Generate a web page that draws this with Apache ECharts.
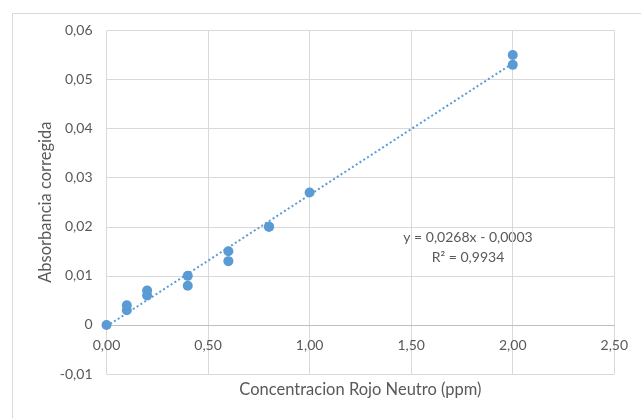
<!DOCTYPE html>
<html>
<head>
<meta charset="utf-8">
<script src="https://cdn.jsdelivr.net/npm/echarts@6/dist/echarts.min.js"></script>
<style>
    html, body { margin: 0; padding: 0; background: #fff; }
    #myChart { width: 641px; height: 418px; }
</style>
</head>
<body>
<div id="myChart"></div>
<script>
    // datos
    let concentracion = [0, 0.1, 0.1, 0.2, 0.2, 0.4, 0.4, 0.6, 0.6, 0.8, 0.8, 1.0, 2.0, 2.0];
    let absorbancia = [0, 0.004, 0.003, 0.007, 0.006, 0.010, 0.008, 0.015, 0.013, 0.020, 0.020, 0.027, 0.055, 0.053];
    // linea de tendencia (extremos)
    let tendenciaX = [0, 2];
    let tendenciaY = [-0.0003, 0.0533];
    let ecuacion = 'y = 0,0268x - 0,0003';
    let r2 = 'R² = 0,9934';

    let puntos = concentracion.map((x, i) => [x, absorbancia[i]]);
    let tendencia = tendenciaX.map((x, i) => [x, tendenciaY[i]]);

    let azul = '#5B9BD5';
    let gris = '#595959';
    let fuente = 'Lato';

    function coma(v, dec) {
        if (Math.abs(v) < 1e-9) return '0';
        return v.toFixed(dec).replace('.', ',');
    }

    let option = {
        backgroundColor: '#fff',
        animation: false,
        textStyle: { fontFamily: fuente },
        grid: {
            left: 106.5,
            right: 26.7,
            top: 30.5,
            bottom: 44,
            containLabel: false,
            outerBoundsMode: 'none'
        },
        xAxis: {
            type: 'value',
            min: 0,
            max: 2.5,
            interval: 0.5,
            // el eje corta en y = 0 (una division por encima del borde)
            offset: -49.07,
            name: 'Concentracion Rojo Neutro (ppm)',
            nameLocation: 'middle',
            nameGap: 56,
            nameTextStyle: { color: gris, fontSize: 16.5, fontFamily: fuente },
            axisLine: { onZero: false, lineStyle: { color: '#BFBFBF', width: 1 } },
            axisTick: { show: false },
            axisLabel: {
                color: gris,
                fontSize: 14,
                margin: 14,
                formatter: v => v === 0 ? '0,00' : coma(v, 2)
            },
            splitLine: { show: true, lineStyle: { color: '#D9D9D9', width: 1 } }
        },
        yAxis: {
            type: 'value',
            min: -0.01,
            max: 0.06,
            interval: 0.01,
            name: 'Absorbancia corregida',
            nameLocation: 'middle',
            nameGap: 52,
            nameMoveOverlap: false,
            nameTextStyle: { color: gris, fontSize: 16.5, fontFamily: fuente },
            axisLine: { show: false },
            axisTick: { show: false },
            axisLabel: {
                color: gris,
                fontSize: 14,
                margin: 14,
                formatter: v => coma(v, 2)
            },
            splitLine: { show: true, lineStyle: { color: '#D9D9D9', width: 1 } }
        },
        graphic: [{
            type: 'rect',
            left: 10,
            top: 11,
            shape: { width: 720, height: 520 },
            style: { fill: 'none', stroke: '#D9D9D9', lineWidth: 1 },
            silent: true,
            z: -1
        }, {
            type: 'text',
            x: 468,
            y: 247,
            style: {
                text: ecuacion + '\n' + r2,
                fill: gris,
                font: '14px ' + fuente,
                align: 'center',
                verticalAlign: 'middle',
                lineHeight: 20
            }
        }],
        series: [{
            type: 'line',
            data: tendencia,
            symbol: 'none',
            lineStyle: { color: azul, width: 2, type: [2, 2.5] },
            z: 2
        }, {
            type: 'scatter',
            data: puntos,
            symbol: 'circle',
            symbolSize: 10,
            itemStyle: { color: azul, opacity: 1 },
            z: 3
        }]
    };

    let myChart = echarts.init(document.getElementById('myChart'));
    myChart.setOption(option);
</script>
</body>
</html>
